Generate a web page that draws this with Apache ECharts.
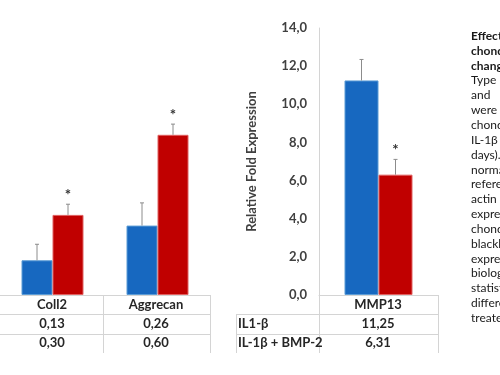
<!DOCTYPE html>
<html>
<head>
<meta charset="utf-8">
<script src="https://cdn.jsdelivr.net/npm/echarts@6/dist/echarts.min.js"></script>
<style>
  html, body { margin: 0; padding: 0; background: #fff; }
  #root { width: 500px; height: 375px; }
</style>
</head>
<body>
<div id="root"></div>
<script>
// data
const seriesNames = ['IL1-β', 'IL-1β + BMP-2'];
const leftCategories = ['Coll2', 'Aggrecan'];
const il1Left = [0.13, 0.26];
const bmpLeft = [0.30, 0.60];
const il1LeftErr = [0.06, 0.085];
const bmpLeftErr = [0.04, 0.04];
const rightCategories = ['MMP13'];
const il1Right = [11.25];
const bmpRight = [6.31];
const il1RightErr = [1.1];
const bmpRightErr = [0.8];
const yTicks = [0, 2, 4, 6, 8, 10, 12, 14];
const captionLines = ['Effect of', 'chondrocyte', 'changes', 'Type', 'and', 'were', 'chondrocytes', 'IL-1β', 'days).',
  'normalized', 'reference', 'actin', 'expression', 'chondrocytes', 'blacklines', 'expression', 'biological',
  'statistically', 'different', 'treated'];

const BLUE = '#1768c0';
const RED = '#c00000';
const FONT = 'Lato';
const fmt = (v, d) => v.toFixed(d).replace('.', ',');

let root = document.getElementById('root');
let myCharts = echarts.init(root);

// error bar + asterisk, offset left/right of the category center
function errorSeries(name, xIdx, cats, vals, errs, side, halfBar, star) {
    return {
        name: name,
        type: 'custom',
        xAxisIndex: xIdx,
        yAxisIndex: xIdx,
        z: 5,
        data: cats.map((c, i) => [i, vals[i], errs[i]]),
        renderItem: function (params, api) {
            let p0 = api.coord([api.value(0), api.value(1)]);
            let p1 = api.coord([api.value(0), api.value(1) + api.value(2)]);
            let x = p0[0] + side * halfBar;
            let children = [
                { type: 'line', shape: { x1: x, y1: p0[1], x2: x, y2: p1[1] }, style: { stroke: '#8c8c8c', lineWidth: 1 } },
                { type: 'line', shape: { x1: x - 2, y1: p1[1], x2: x + 2, y2: p1[1] }, style: { stroke: '#8c8c8c', lineWidth: 1 } }
            ];
            if (star) {
                children.push({
                    type: 'text',
                    style: { text: '*', x: x, y: p1[1] - 9, fill: '#333', font: 'bold 15px ' + FONT, align: 'center', verticalAlign: 'middle' }
                });
            }
            return { type: 'group', children: children };
        }
    };
}

function barSeries(name, xIdx, vals, color, border, width) {
    return {
        name: name,
        type: 'bar',
        xAxisIndex: xIdx,
        yAxisIndex: xIdx,
        barWidth: width,
        barGap: '0%',
        itemStyle: { color: color, borderColor: border, borderWidth: 1 },
        data: vals
    };
}

// table drawn under both plots
const gridColor = '#d4d4d4';
function hline(x1, x2, y) {
    return { type: 'line', shape: { x1: x1, y1: y, x2: x2, y2: y }, style: { stroke: gridColor, lineWidth: 1 }, silent: true };
}
function vline(x, y1, y2) {
    return { type: 'line', shape: { x1: x, y1: y1, x2: x, y2: y2 }, style: { stroke: gridColor, lineWidth: 1 }, silent: true };
}
function cell(text, x, y, align) {
    return { type: 'text', style: { text: text, x: x, y: y, align: align || 'center', verticalAlign: 'middle', fill: '#262626', font: 'bold 13px ' + FONT }, silent: true };
}

const rowY = [305, 324, 343];
const leftCols = [52, 156];
let graphics = [
    hline(0, 210, 314.5), hline(0, 210, 334.5),
    vline(103.5, 295, 353), vline(210.5, 295, 353),
    hline(236, 438, 314.5), hline(236, 438, 334.5),
    vline(236.5, 314, 353), vline(319.5, 295, 353), vline(438.5, 295, 353)
];
leftCategories.forEach((c, i) => {
    graphics.push(cell(c, leftCols[i], rowY[0]));
    graphics.push(cell(fmt(il1Left[i], 2), leftCols[i], rowY[1]));
    graphics.push(cell(fmt(bmpLeft[i], 2), leftCols[i], rowY[2]));
});
rightCategories.forEach((c, i) => {
    graphics.push(cell(c, 378, rowY[0]));
    graphics.push(cell(fmt(il1Right[i], 2), 378, rowY[1]));
    graphics.push(cell(fmt(bmpRight[i], 2), 378, rowY[2]));
});
graphics.push(cell(seriesNames[0], 238, rowY[1], 'left'));
graphics.push(cell(seriesNames[1], 238, rowY[2], 'left'));
captionLines.forEach((t, i) => {
    graphics.push({
        type: 'text',
        style: { text: t, x: 471, y: 36 + i * 14.85, verticalAlign: 'middle', fill: '#1a1a1a', font: (i < 3 ? 'bold ' : '') + '12px ' + FONT },
        silent: true
    });
});

let option = {
    animation: false,
    textStyle: { fontFamily: FONT },
    grid: [
        { left: -4, top: 28, right: 290, bottom: 80 },
        { left: 319, top: 28, right: 62, bottom: 80 }
    ],
    xAxis: [
        {
            gridIndex: 0, type: 'category', data: leftCategories,
            axisLine: { lineStyle: { color: gridColor } }, axisTick: { show: false }, axisLabel: { show: false }
        },
        {
            gridIndex: 1, type: 'category', data: rightCategories,
            axisLine: { lineStyle: { color: gridColor } }, axisTick: { show: false }, axisLabel: { show: false }
        }
    ],
    yAxis: [
        { gridIndex: 0, type: 'value', min: 0, max: 1, show: false },
        {
            gridIndex: 1, type: 'value', min: yTicks[0], max: yTicks[yTicks.length - 1], interval: 2,
            name: 'Relative Fold Expression', nameLocation: 'middle', nameGap: 61,
            nameTextStyle: { fontWeight: 'bold', fontSize: 13, color: '#404040', fontFamily: FONT },
            axisLine: { show: true, lineStyle: { color: gridColor } },
            axisTick: { show: false },
            splitLine: { show: false },
            axisLabel: { margin: 12, fontWeight: 'bold', fontSize: 13, color: '#404040', formatter: v => fmt(v, 1) }
        }
    ],
    series: [
        barSeries(seriesNames[0], 0, il1Left, BLUE, '#5b9bd5', 31),
        barSeries(seriesNames[1], 0, bmpLeft, RED, '#e06060', 31),
        errorSeries(seriesNames[0], 0, leftCategories, il1Left, il1LeftErr, -1, 15.5, false),
        errorSeries(seriesNames[1], 0, leftCategories, bmpLeft, bmpLeftErr, 1, 15.5, true),
        barSeries(seriesNames[0], 1, il1Right, BLUE, '#5b9bd5', 34),
        barSeries(seriesNames[1], 1, bmpRight, RED, '#e06060', 34),
        errorSeries(seriesNames[0], 1, rightCategories, il1Right, il1RightErr, -1, 17, false),
        errorSeries(seriesNames[1], 1, rightCategories, bmpRight, bmpRightErr, 1, 17, true)
    ],
    graphic: graphics
};
myCharts.setOption(option);
</script>
</body>
</html>
